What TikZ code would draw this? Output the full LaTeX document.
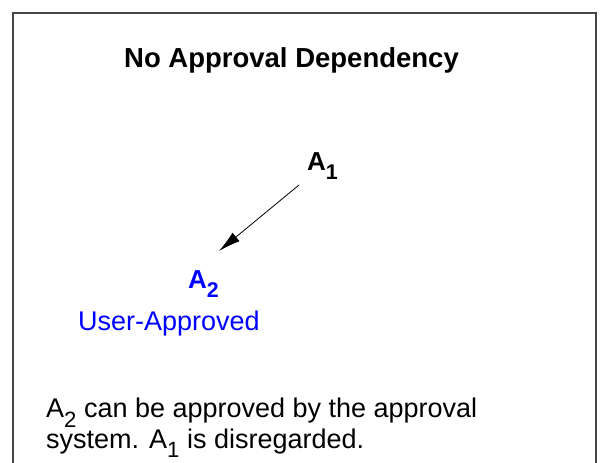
\documentclass[tikz,border=0pt]{standalone}
\usepackage{fontspec}
\setmainfont{Liberation Sans}
\usetikzlibrary{arrows.meta}
\definecolor{apblue}{RGB}{0,0,255}
\definecolor{framegray}{RGB}{70,70,70}
\newcommand{\mysub}[1]{\raisebox{-0.36em}{\scalebox{0.82}{#1}}}
\begin{document}
\begin{tikzpicture}[x=1pt,y=-1pt,
  txt/.style={inner sep=0pt,anchor=base west},
  big/.style={font=\fontsize{26}{26}\selectfont\bfseries},
  conn/.style={draw=black,line width=0.8pt,-{Latex[length=22pt,width=11pt]}}]
\useasboundingbox (0,0) rectangle (600,463);
\fill[white] (0,0) rectangle (600,463);
\draw[framegray,line width=1.5pt] (13,480) -- (13,13) -- (596,13) -- (596,480);
\node[inner sep=0pt,anchor=base,font=\fontsize{27.5}{27.5}\selectfont\bfseries] (title) at (291.5,67) {No Approval Dependency};
\node[txt,big] (A1) at (307,170) {A\mysub{1}};
\node[txt,big,text=apblue] (A2) at (188,288) {A\mysub{2}};
\node[txt,text=apblue,font=\fontsize{27}{27}\selectfont] (ua) at (78,330) {User-Approved};
\node[txt,align=left,font=\fontsize{27}{25}\selectfont] (desc) at (46,448) {A\mysub{2} can be approved by the approval\\system. A\mysub{1} is disregarded.};
\coordinate (s) at ([shift={(-8,15)}]A1.base west);
\coordinate (t) at ([shift={(31,-37)}]A2.base west);
\draw[conn] (s) -- (t);
\end{tikzpicture}
\end{document}
